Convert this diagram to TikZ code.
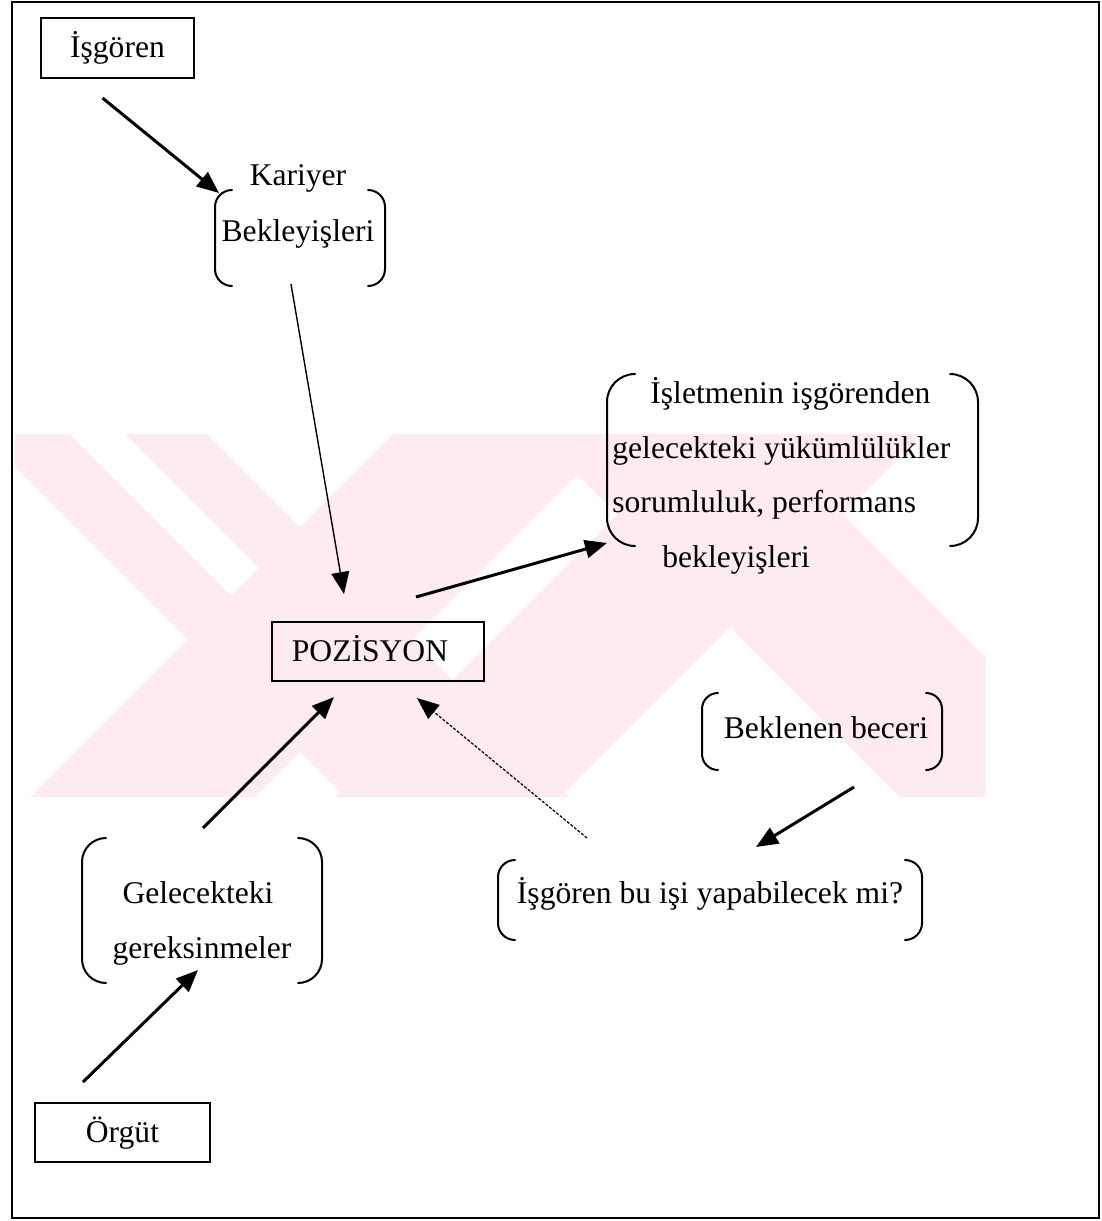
\documentclass[tikz,border=0pt]{standalone}
\usepackage{fontspec}
\setmainfont{Liberation Serif}
\usetikzlibrary{arrows.meta}
\definecolor{wm}{RGB}{253,235,239}
\tikzset{
  lbl/.style={font=\fontsize{15.8pt}{19pt}\selectfont, inner sep=0pt},
  boxn/.style={draw, line width=1pt, inner sep=0pt, text height=11pt, text depth=1.5pt,
               font=\fontsize{15.8pt}{19pt}\selectfont},
  frm/.style={inner sep=0pt, outer sep=0pt},
  brk/.style={line width=1pt, line cap=round},
  arrthick/.style={line width=1.5pt, -{Triangle[length=11pt,width=9pt]}},
  arrthin/.style={line width=0.7pt, -{Triangle[length=11pt,width=9pt]}},
  arrdot/.style={line width=0.6pt, dash pattern=on 1.5pt off 0.8pt, -{Triangle[length=11pt,width=9pt]}},
}
\newcommand\parpair[2]{%
  \draw[brk, rounded corners=#2] ([xshift=#2]#1.north west) -- (#1.north west) -- (#1.south west) -- ([xshift=#2]#1.south west);
  \draw[brk, rounded corners=#2] ([xshift=-#2]#1.north east) -- (#1.north east) -- (#1.south east) -- ([xshift=-#2]#1.south east);}
\begin{document}
\begin{tikzpicture}[x=0.5pt, y=-0.5pt]
\useasboundingbox (0,0) rectangle (1102,1221);
% faint watermark
\begin{scope}
  \clip (15,434) rectangle (985,797);
  \fill[wm] (-18,434) -- (207,434) -- (570,797) -- (345,797) -- cycle;
  \fill[white] (70,434) -- (125,434) -- (259,568) -- (231.5,595.5) -- cycle;
  \fill[wm] (393,434) -- (618,434) -- (255,797) -- (30,797) -- cycle;
  \fill[wm] (537,434) -- (762,434) -- (1125,797) -- (900,797) -- cycle;
  \fill[wm] (698,434) -- (923,434) -- (560,797) -- (335,797) -- cycle;
\end{scope}
% outer frame
\draw[line width=1pt] (12,2) rectangle (1099,1218);

% boxes
\node[boxn, minimum width=76.5pt, minimum height=30pt] (isg) at (117.5,48) {İşgören};
\node[boxn, minimum width=106pt, minimum height=29.5pt] (poz) at (378,651.5) {\hspace*{-8pt}POZİSYON};
\node[boxn, minimum width=87.5pt, minimum height=29.5pt] (org) at (122.5,1132.5) {Örgüt};

% bracketed groups
\node[frm, minimum width=85pt, minimum height=48pt] (kb) at (300,238) {};
\node[lbl, anchor=base] (kb1) at (298,185) {Kariyer};
\node[lbl, anchor=base] (kb2) at (298,241) {Bekleyişleri};
\parpair{kb}{8.5pt}

\node[frm, minimum width=185.5pt, minimum height=86pt] (ib) at (792.5,460) {};
\node[lbl, anchor=base west] (ib1) at (650,403) {İşletmenin işgörenden};
\node[lbl, anchor=base west] (ib2) at (612,458) {gelecekteki yükümlülükler};
\node[lbl, anchor=base west] (ib3) at (612,512) {sorumluluk, performans};
\node[lbl, anchor=base west] (ib4) at (662,567) {bekleyişleri};
\parpair{ib}{14pt}

\node[frm, minimum width=120pt, minimum height=38.5pt] (bb) at (822,731.5) {};
\node[lbl, anchor=base] (bbt) at (826,738) {Beklenen beceri};
\parpair{bb}{8pt}

\node[frm, minimum width=212pt, minimum height=40pt] (yb) at (710,900) {};
\node[lbl, anchor=base] (ybt) at (710,903) {İşgören bu işi yapabilecek mi?};
\parpair{yb}{8.5pt}

\node[frm, minimum width=120pt, minimum height=72.5pt] (gb) at (202,910.5) {};
\node[lbl, anchor=base] (gb1) at (198,903) {Gelecekteki};
\node[lbl, anchor=base] (gb2) at (202,958) {gereksinmeler};
\parpair{gb}{12pt}

% connectors
\draw[arrthick] ([shift={(-15,19)}]isg.south) -- ([shift={(4,3)}]kb.north west);
\draw[arrthin] ([shift={(-9,-2)}]kb.south) -- ([shift={(-34,-27)}]poz.north);
\draw[arrthick] ([shift={(38,-24)}]poz.north) -- ([shift={(0,-3)}]ib.south west);
\draw[arrthick] ([shift={(32,17)}]bb.south) -- ([shift={(46,-13)}]yb.north);
\draw[arrdot] ([shift={(-123,-22)}]yb.north) -- ([shift={(39,16)}]poz.south);
\draw[arrthick] ([shift={(1,-10)}]gb.north) -- ([shift={(-44,15)}]poz.south);
\draw[arrthick] ([shift={(-39.5,-20)}]org.north) -- ([shift={(-4,-13)}]gb.south);
\end{tikzpicture}
\end{document}
